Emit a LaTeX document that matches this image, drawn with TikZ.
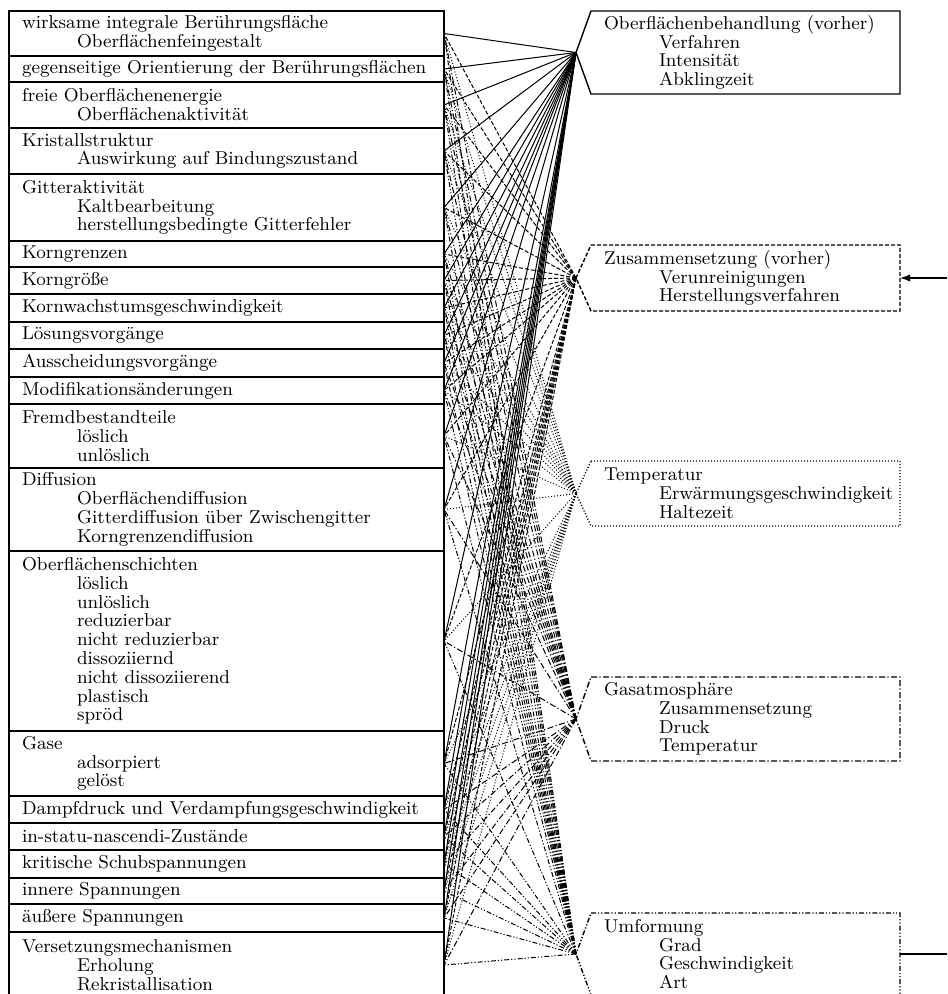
\documentclass[tikz,border=0pt]{standalone}
\usepackage{fontspec}
\usetikzlibrary{arrows.meta}
\newcommand\ind{\hspace*{27.5pt}}
\begin{document}
\begin{tikzpicture}[x=0.5pt,y=-0.5pt,
  every node/.style={outer sep=0pt},
  txt/.style={font=\fontsize{9.3}{9.4}\selectfont, align=left, inner xsep=6.5pt, inner ysep=0pt, anchor=north west},
  lbox/.style={txt, draw, line width=0.7pt, minimum width=217.5pt, text width=204.5pt},
  rbox/.style={txt, minimum width=154.5pt, text width=141.5pt},
  frame/.style={line width=0.7pt},
  c1/.style={line width=0.5pt, solid},
  c2/.style={line width=0.5pt, dash pattern=on 2pt off 1pt},
  c3/.style={line width=0.5pt, dash pattern=on 0.5pt off 1pt},
  c4/.style={line width=0.5pt, dash pattern=on 3pt off 1.2pt on 0.6pt off 1.2pt},
  c5/.style={line width=0.5pt, dash pattern=on 2.5pt off 1pt on 0.6pt off 1pt on 0.6pt off 1pt},
]
\path[use as bounding box, clip] (0,0) rectangle (947,994);

% left boxes
\node[lbox, minimum height=22.5pt] (l1) at (9,11) {wirksame integrale Berührungsfläche\\\ind Oberflächenfeingestalt};
\node[lbox, minimum height=13pt] (l2) at (9,56) {gegenseitige Orientierung der Berührungsflächen};
\node[lbox, minimum height=23pt] (l3) at (9,82) {freie Oberflächenenergie\\\ind Oberflächenaktivität};
\node[lbox, minimum height=23pt] (l4) at (9,128) {Kristallstruktur\\\ind Auswirkung auf Bindungszustand};
\node[lbox, minimum height=33.5pt] (l5) at (9,174) {Gitteraktivität\\\ind Kaltbearbeitung\\\ind herstellungsbedingte Gitterfehler};
\node[lbox, minimum height=13pt] (l6) at (9,241) {Korngrenzen};
\node[lbox, minimum height=13.5pt] (l7) at (9,267) {Korngröße};
\node[lbox, minimum height=14pt] (l8) at (9,294) {Kornwachstumsgeschwindigkeit};
\node[lbox, minimum height=13.5pt] (l9) at (9,322) {Lösungsvorgänge};
\node[lbox, minimum height=14pt] (l10) at (9,349) {Ausscheidungsvorgänge};
\node[lbox, minimum height=13.5pt] (l11) at (9,377) {Modifikationsänderungen};
\node[lbox, minimum height=32pt] (l12) at (9,404) {Fremdbestandteile\\\ind löslich\\\ind unlöslich};
\node[lbox, minimum height=41.5pt] (l13) at (9,468) {Diffusion\\\ind Oberflächendiffusion\\\ind Gitterdiffusion über Zwischengitter\\\ind Korngrenzendiffusion};
\node[lbox, minimum height=90pt] (l14) at (9,551) {Oberflächenschichten\\\ind löslich\\\ind unlöslich\\\ind reduzierbar\\\ind nicht reduzierbar\\\ind dissoziiernd\\\ind nicht dissoziierend\\\ind plastisch\\\ind spröd};
\node[lbox, minimum height=32.5pt] (l15) at (9,731) {Gase\\\ind adsorpiert\\\ind gelöst};
\node[lbox, minimum height=13.5pt] (l16) at (9,796) {Dampfdruck und Verdampfungsgeschwindigkeit};
\node[lbox, minimum height=13.5pt] (l17) at (9,823) {in-statu-nascendi-Zustände};
\node[lbox, minimum height=14pt] (l18) at (9,850) {kritische Schubspannungen};
\node[lbox, minimum height=13pt] (l19) at (9,878) {innere Spannungen};
\node[lbox, minimum height=14pt] (l20) at (9,904) {äußere Spannungen};
\node[lbox, minimum height=33pt] (l21) at (9,932) {Versetzungsmechanismen\\\ind Erholung\\\ind Rekristallisation};

% right boxes
\node[rbox, minimum height=41.5pt] (r1) at (591,11) {Oberflächenbehandlung (vorher)\\\ind Verfahren\\\ind Intensität\\\ind Abklingzeit};
\node[rbox, minimum height=33pt] (r2) at (591,245) {Zusammensetzung (vorher)\\\ind Verunreinigungen\\\ind Herstellungsverfahren};
\node[rbox, minimum height=32.5pt] (r3) at (591,461) {Temperatur\\\ind \mbox{Erwärmungsgeschwindigkeit}\\\ind Haltezeit};
\node[rbox, minimum height=42pt] (r4) at (591,677) {Gasatmosphäre\\\ind Zusammensetzung\\\ind Druck\\\ind Temperatur};
\node[rbox, minimum height=41pt] (r5) at (591,913) {Umformung\\\ind Grad\\\ind Geschwindigkeit\\\ind Art};

\foreach \k in {1,...,5}{
  \coordinate (t\k) at ([xshift=-7.5pt]r\k.west);
  \draw[c\k, frame] (r\k.north west) -- (r\k.north east) -- (r\k.south east) -- (r\k.south west) -- (t\k) -- cycle;
  \foreach \i in {1,...,21}{
    \draw[c\k] (t\k) -- (l\i.east);
  }
}

% external connectors
\coordinate (ain) at (960,278);
\coordinate (aout) at (960,954);
\draw[line width=0.6pt, -{Latex[length=5pt,width=3.6pt]}] (ain) -- (r2.east);
\draw[line width=0.6pt] (r5.east) -- (aout);
\end{tikzpicture}
\end{document}
